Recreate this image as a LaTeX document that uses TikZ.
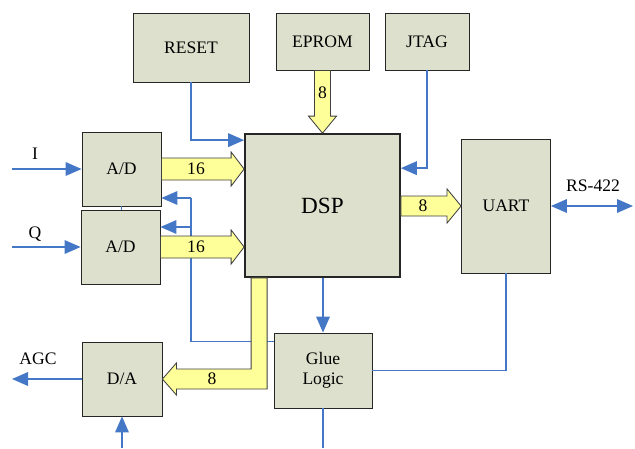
\documentclass[tikz,border=0pt]{standalone}
\usepackage{fontspec}
\setmainfont{Liberation Serif}
\usetikzlibrary{arrows.meta, positioning, calc}

\definecolor{boxfill}{RGB}{221,224,204}
\definecolor{busfill}{RGB}{255,255,153}
\definecolor{sigblue}{RGB}{68,120,198}

\tikzset{
  blk/.style={draw=black!85, fill=boxfill, line width=0.6pt, font=\fontsize{12.5}{14}\selectfont, align=center},
  bus/.style={draw=black!75, fill=busfill, line width=0.6pt},
  buslbl/.style={font=\fontsize{12.5}{14}\selectfont, inner sep=0pt},
  sig/.style={draw=sigblue, line width=1.1pt},
  sigarrow/.style={sig, -{Triangle[length=0.4cm, width=0.34cm]}},
  lbl/.style={font=\fontsize{12.5}{14}\selectfont, inner sep=1pt}
}

\begin{document}
\begin{tikzpicture}[x=0.025cm, y=-0.025cm]
				\useasboundingbox (0,0) rectangle (635,448);

				% Blocks
				\node[blk, minimum width=2.9cm, minimum height=1.725cm] (reset) at (191,47.5) {RESET};
				\node[blk, minimum width=2.325cm, minimum height=1.425cm] (eprom) at (322.5,41.5) {EPROM};
				\node[blk, minimum width=2.1cm, minimum height=1.425cm] (jtag) at (427,41.5) {JTAG};
				\node[blk, line width=1.2pt, minimum width=3.875cm, minimum height=3.575cm, font=\fontsize{16.5}{18}\selectfont] (dsp) at (322.5,205.5) {DSP};
				\node[blk, minimum width=1.975cm, minimum height=1.85cm] (ad1) at (121.5,169) {A/D};
				\node[blk, minimum width=1.975cm, minimum height=1.85cm] (ad2) at (120.5,247) {A/D};
				\node[blk, minimum width=2.225cm, minimum height=3.35cm] (uart) at (506,206) {UART};
				\node[blk, minimum width=2.45cm, minimum height=1.875cm] (glue) at (323,370.5) {Glue\\Logic};
				\node[blk, minimum width=2.0cm, minimum height=1.85cm] (da) at (122,379) {D/A};

				% Free ends and labels
				\coordinate (iIn) at (12,169);
				\coordinate (qIn) at (12,247);
				\coordinate (agcOut) at (12,379);
				\coordinate (daIn) at (122,448);
				\coordinate (glueOut) at (323,448);
				\coordinate (rsOut) at (633,206);
				\coordinate (fbTop) at (191,198);
				\node[lbl] (ilbl) at (35,154) {I};
				\node[lbl] (qlbl) at (35,234) {Q};
				\node[lbl] (agclbl) at (38,359) {AGC};
				\node[lbl] (rslbl) at (593,186) {RS-422};

				% Control lines
				\draw[sigarrow] (iIn) -- (ad1.west |- iIn);
				\draw[sigarrow] (qIn) -- (ad2.west |- qIn);
				\draw[sig] (ad1.south) -- (ad1.south |- ad2.north);
				\draw[sig] (fbTop) |- ($(glue.north west)+(0,9)$);
				\draw[sigarrow] (fbTop) -- (fbTop -| ad1.east);
				\draw[sigarrow] (fbTop |- 0,227) -- (ad2.east |- 0,227);
				\draw[sigarrow] (reset.south) |- ($(dsp.north west)+(0,7)$);
				\draw[sigarrow] (jtag.south) |- ($(dsp.north east)+(0,35)$);
				\draw[sigarrow] (dsp.south -| glue.north) -- (glue.north);
				\draw[sig] (glue.east) -| (uart.south);
				\draw[sig] (glue.south) -- (glueOut);
				\draw[sigarrow] (daIn) -- (da.south);
				\draw[sigarrow] (da.west) -- (agcOut);
				\draw[sig, {Triangle[length=0.4cm, width=0.34cm]}-{Triangle[length=0.4cm, width=0.34cm]}] (uart.east) -- (rsOut);

				% Data buses
				\draw[bus] ($(ad1.east)+(0,-11)$) -| ($(dsp.west |- ad1.east)+(-13,-17)$) -- (dsp.west |- ad1.east) -- ($(dsp.west |- ad1.east)+(-13,17)$) |- ($(ad1.east)+(0,11)$) -- cycle;
				\node[buslbl] (b1) at (196,169) {16};
				\draw[bus] ($(ad2.east)+(0,-11)$) -| ($(dsp.west |- ad2.east)+(-13,-17)$) -- (dsp.west |- ad2.east) -- ($(dsp.west |- ad2.east)+(-13,17)$) |- ($(ad2.east)+(0,11)$) -- cycle;
				\node[buslbl] (b2) at (196,247) {16};
				\draw[bus] ($(eprom.south)+(-8,0)$) -- ($(dsp.north)+(-8,-17)$) -- ++(-6,0) -- (dsp.north) -- ++(14,-17) -- ++(-6,0) -- ($(eprom.south)+(8,0)$) -- cycle;
				\node[buslbl] (b3) at (322.5,93) {8};
				\draw[bus] ($(dsp.east |- uart.west)+(0,-10)$) -- ($(uart.west)+(-14,-10)$) -- ++(0,-7) -- (uart.west) -- ++(-14,17) -- ++(0,-7) -- ($(dsp.east |- uart.west)+(0,10)$) -- cycle;
				\node[buslbl] (b4) at (423,206) {8};
				\draw[bus] ($(dsp.south west)+(7,0)$) |- ($(da.east)+(14,-10)$) -- ++(0,-6) -- (da.east) -- ++(14,16) -- ++(0,-6) -| ($(dsp.south west)+(23,0)$) -- cycle;
				\node[buslbl] (b5) at (212,379) {8};
			\end{tikzpicture}
\end{document}
